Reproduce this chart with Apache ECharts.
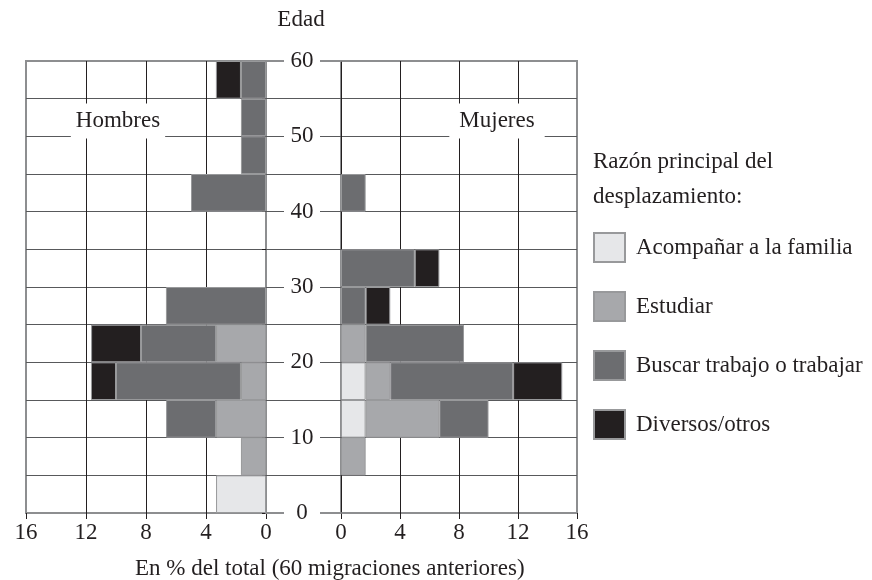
<!DOCTYPE html>
<html>
<head>
<meta charset="utf-8">
<script src="https://cdn.jsdelivr.net/npm/echarts@6/dist/echarts.min.js"></script>
<style>
  html, body { margin: 0; padding: 0; background: #fff; }
  #chart { width: 872px; height: 580px; }
</style>
</head>
<body>
<div id="chart"></div>
<script>
// Grupos de edad (tramos de 5 años), de abajo hacia arriba
const bandas = ['0-5', '5-10', '10-15', '15-20', '20-25', '25-30', '30-35', '35-40', '40-45', '45-50', '50-55', '55-60'];

// Razones del desplazamiento
const razones = ['Acompañar a la familia', 'Estudiar', 'Buscar trabajo o trabajar', 'Diversos/otros'];
const colores = ['#e6e7e9', '#a7a8ab', '#6c6d70', '#231f20'];

// Hombres, en % del total de 60 migraciones
const hombresAcompanar = [3.33, null, null, null, null, null, null, null, null, null, null, null];
const hombresEstudiar  = [null, 1.67, 3.33, 1.67, 3.33, null, null, null, null, null, null, null];
const hombresTrabajo   = [null, null, 3.33, 8.33, 5, 6.67, null, null, 5, 1.67, 1.67, 1.67];
const hombresOtros     = [null, null, null, 1.67, 3.33, null, null, null, null, null, null, 1.67];

// Mujeres, en % del total de 60 migraciones
const mujeresAcompanar = [null, null, 1.67, 1.67, null, null, null, null, null, null, null, null];
const mujeresEstudiar  = [null, 1.67, 5, 1.67, 1.67, null, null, null, null, null, null, null];
const mujeresTrabajo   = [null, null, 3.33, 8.33, 6.67, 1.67, 5, null, 1.67, null, null, null];
const mujeresOtros     = [null, null, null, 3.33, null, 1.67, 1.67, null, null, null, null, null];

const FONT = "'Liberation Serif', 'Times New Roman', serif";
const TXT = '#231f20';
const BORDE = '#8d8e90';
const LINEA_H = '#58595b';
const LINEA_V = '#231f20';

const chart = echarts.init(document.getElementById('chart'), null, { renderer: 'canvas' });

function serie(nombre, idx, datos, eje, pila) {
  return {
    name: nombre,
    type: 'bar',
    stack: pila,
    xAxisIndex: eje,
    yAxisIndex: eje,
    barWidth: '100%',
    barCategoryGap: '0%',
    data: datos,
    itemStyle: { color: colores[idx], borderColor: '#98999b', borderWidth: 1 },
    emphasis: { disabled: true },
    z: 3
  };
}

const gridTop = 61, gridBottom = 67;

const option = {
  animation: false,
  textStyle: { fontFamily: FONT, color: TXT },
  grid: [
    { left: 26, right: 606, top: gridTop, bottom: gridBottom, show: true, borderColor: BORDE, borderWidth: 2 },
    { left: 341, right: 295, top: gridTop, bottom: gridBottom, show: true, borderColor: BORDE, borderWidth: 2 },
    { left: 266, right: 531, top: gridTop, bottom: gridBottom, show: false }
  ],
  xAxis: [
    {
      gridIndex: 0, type: 'value', min: 0, max: 16, interval: 4, inverse: true,
      axisLine: { show: false },
      axisTick: { show: true, length: 6, lineStyle: { color: LINEA_V } },
      axisLabel: { fontSize: 23, fontFamily: FONT, color: TXT, margin: 8, showMinLabel: true, showMaxLabel: true },
      splitLine: { show: true, showMinLine: false, showMaxLine: false, lineStyle: { color: LINEA_V, width: 1 } }
    },
    {
      gridIndex: 1, type: 'value', min: 0, max: 16, interval: 4,
      axisLine: { show: false },
      axisTick: { show: true, length: 6, lineStyle: { color: LINEA_V } },
      axisLabel: { fontSize: 23, fontFamily: FONT, color: TXT, margin: 8, showMinLabel: true, showMaxLabel: true },
      splitLine: { show: true, showMinLine: true, showMaxLine: false, lineStyle: { color: LINEA_V, width: 1 } }
    },
    {
      gridIndex: 2, type: 'value', position: 'bottom', z: 1,
      axisLine: { show: true, lineStyle: { color: BORDE, width: 2 } },
      axisTick: { show: false }, axisLabel: { show: false }, splitLine: { show: false }
    },
    {
      gridIndex: 2, type: 'value', position: 'top', z: 1,
      axisLine: { show: true, lineStyle: { color: BORDE, width: 2 } },
      axisTick: { show: false }, axisLabel: { show: false }, splitLine: { show: false }
    }
  ],
  yAxis: [
    {
      gridIndex: 0, type: 'category', data: bandas, position: 'right',
      axisLine: { show: false },
      axisTick: { show: true, inside: true, length: 4, lineStyle: { color: LINEA_V } },
      axisLabel: { show: false },
      splitLine: { show: true, showMinLine: false, showMaxLine: false, lineStyle: { color: LINEA_H, width: 1 } }
    },
    {
      gridIndex: 1, type: 'category', data: bandas,
      axisLine: { show: false }, axisTick: { show: false }, axisLabel: { show: false },
      splitLine: { show: true, showMinLine: false, showMaxLine: false, lineStyle: { color: LINEA_H, width: 1 } }
    },
    {
      gridIndex: 2, type: 'value', min: 0, max: 60, interval: 10, z: 5,
      axisLine: { show: false }, axisTick: { show: false },
      minorTick: { show: false, splitNumber: 2 },
      minorSplitLine: { show: true, lineStyle: { color: LINEA_H, width: 1 } },
      splitLine: { show: true, showMinLine: false, showMaxLine: false, lineStyle: { color: LINEA_H, width: 1 } },
      axisLabel: {
        inside: true, margin: 36, align: 'center', fontSize: 23, fontFamily: FONT, color: TXT,
        backgroundColor: '#fff', width: 28, padding: [1, 4, 1, 4],
        showMinLabel: true, showMaxLabel: true
      }
    }
  ],
  legend: {
    orient: 'vertical', left: 593, top: 232, padding: 0,
    itemWidth: 31, itemHeight: 29, itemGap: 28,
    icon: 'rect', selectedMode: false,
    data: razones,
    textStyle: { fontSize: 23, fontFamily: FONT, color: TXT, padding: [0, 0, 0, 6] }
  },
  graphic: [
    { type: 'text', z: 100, x: 301, y: 20,
      style: { text: 'Edad', font: '23px ' + FONT, fill: TXT, textAlign: 'center', textVerticalAlign: 'middle' } },
    { type: 'text', z: 100, x: 118, y: 121,
      style: { text: 'Hombres', font: '23px ' + FONT, fill: TXT, textAlign: 'center', textVerticalAlign: 'middle',
               backgroundColor: '#fff', padding: [6, 5, 6, 5], lineHeight: 23 } },
    { type: 'text', z: 100, x: 497, y: 121,
      style: { text: 'Mujeres', font: '23px ' + FONT, fill: TXT, textAlign: 'center', textVerticalAlign: 'middle',
               backgroundColor: '#fff', padding: [6, 10, 6, 10], lineHeight: 23 } },
    { type: 'text', z: 100, x: 593, y: 144,
      style: { text: 'Razón principal del\ndesplazamiento:', font: '23px ' + FONT, fill: TXT, lineHeight: 35 } },
    { type: 'text', z: 100, x: 135, y: 569,
      style: { text: 'En % del total (60 migraciones anteriores)', font: '23px ' + FONT, fill: TXT,
               textAlign: 'left', textVerticalAlign: 'middle' } }
  ],
  series: [
    serie(razones[0], 0, hombresAcompanar, 0, 'hombres'),
    serie(razones[1], 1, hombresEstudiar, 0, 'hombres'),
    serie(razones[2], 2, hombresTrabajo, 0, 'hombres'),
    serie(razones[3], 3, hombresOtros, 0, 'hombres'),
    serie(razones[0], 0, mujeresAcompanar, 1, 'mujeres'),
    serie(razones[1], 1, mujeresEstudiar, 1, 'mujeres'),
    serie(razones[2], 2, mujeresTrabajo, 1, 'mujeres'),
    serie(razones[3], 3, mujeresOtros, 1, 'mujeres')
  ]
};

chart.setOption(option);
</script>
</body>
</html>
